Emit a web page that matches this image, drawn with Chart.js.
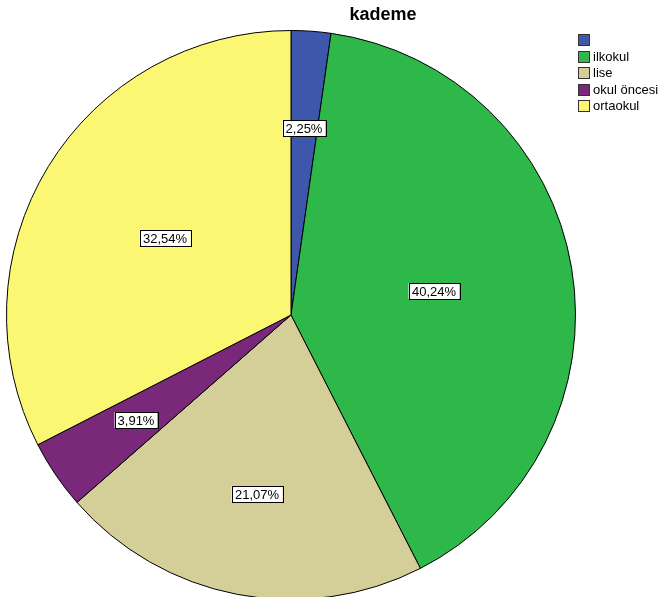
<!DOCTYPE html>
<html lang="en">
<head>
  <meta charset="UTF-8">
  <title>kademe</title>
  <script src="https://cdn.jsdelivr.net/npm/chart.js"></script>
  <style>
    body {
      margin: 0;
      background: #fff;
      overflow: hidden;
    }
  </style>
</head>
<body>
  <canvas id="pieChart" width="661" height="601"></canvas>

  <script>
    const categories = ['', 'ilkokul', 'lise', 'okul öncesi', 'ortaokul'];
    const percents = [2.25, 40.24, 21.07, 3.91, 32.54];
    const colors = ['#3d58ab', '#2fb84a', '#d4cf98', '#7a287a', '#fbf772'];

    // label distance from centre, as a share of the radius
    const labelRadius = [0.66, 0.51, 0.64, 0.66, 0.52];

    const pieLabels = {
      id: 'pieLabels',
      afterDatasetsDraw(chart) {
        const ctx = chart.ctx;
        const arcs = chart.getDatasetMeta(0).data;
        ctx.save();
        ctx.font = '13px Arial, "Liberation Sans", sans-serif';
        ctx.textAlign = 'center';
        ctx.textBaseline = 'middle';
        arcs.forEach((arc, i) => {
          const p = arc.getProps(['x', 'y', 'startAngle', 'endAngle', 'outerRadius'], true);
          const mid = (p.startAngle + p.endAngle) / 2;
          const r = p.outerRadius * labelRadius[i];
          const x = Math.round(p.x + Math.cos(mid) * r);
          const y = Math.round(p.y + Math.sin(mid) * r);
          const text = percents[i].toFixed(2).replace('.', ',') + '%';
          const w = Math.ceil(ctx.measureText(text).width) + 6;
          const h = 16;
          ctx.fillStyle = '#fff';
          ctx.fillRect(x - w / 2, y - h / 2, w, h);
          ctx.strokeStyle = '#000';
          ctx.lineWidth = 1;
          ctx.strokeRect(Math.round(x - w / 2) + 0.5, y - h / 2 + 0.5, w, h);
          ctx.fillStyle = '#000';
          ctx.fillText(text, x, y + 1);
        });
        ctx.restore();
      },
      afterDraw(chart) {
        const ctx = chart.ctx;
        ctx.save();
        // title
        ctx.fillStyle = '#000';
        ctx.font = 'bold 18px Arial, "Liberation Sans", sans-serif';
        ctx.textAlign = 'center';
        ctx.textBaseline = 'middle';
        ctx.fillText('kademe', 383, 15);
        // legend
        ctx.font = '13px Arial, "Liberation Sans", sans-serif';
        ctx.textAlign = 'left';
        categories.forEach((name, i) => {
          const y = 34 + i * 16.5;
          ctx.fillStyle = colors[i];
          ctx.fillRect(578, Math.round(y), 11, 11);
          ctx.strokeStyle = '#333';
          ctx.strokeRect(578.5, Math.round(y) + 0.5, 11, 11);
          ctx.fillStyle = '#000';
          ctx.fillText(name, 593, Math.round(y) + 6);
        });
        ctx.restore();
      }
    };

    new Chart(document.getElementById('pieChart').getContext('2d'), {
      type: 'pie',
      data: {
        labels: categories,
        datasets: [{
          data: percents,
          backgroundColor: colors,
          borderColor: '#000',
          borderWidth: 1
        }]
      },
      options: {
        responsive: false,
        animation: false,
        layout: {
          padding: { left: 6, top: 30, right: 85, bottom: 1 }
        },
        plugins: {
          legend: { display: false },
          tooltip: { enabled: false }
        }
      },
      plugins: [pieLabels]
    });
  </script>
</body>
</html>
